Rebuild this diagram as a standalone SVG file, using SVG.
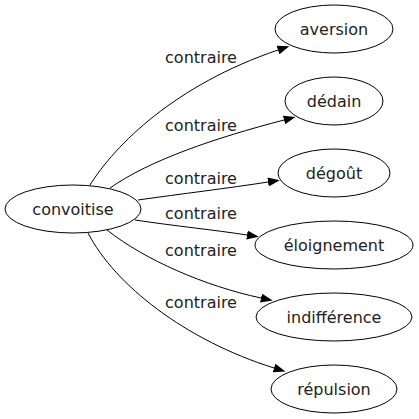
<svg xmlns="http://www.w3.org/2000/svg" width="419" height="419" viewBox="0 0 419 419">
<defs>
<style>
.node ellipse{fill:none;stroke:#000;stroke-width:1}
.node text{font-family:"DejaVu Sans",sans-serif;font-size:16px;text-anchor:middle;fill:#222}
.edge path{fill:none;stroke:#000;stroke-width:1}
.lbl{font-family:"DejaVu Sans",sans-serif;font-size:16px;text-anchor:middle;fill:#222}
</style>
<marker id="arr" markerUnits="userSpaceOnUse" markerWidth="13" markerHeight="10" refX="0" refY="4.5" orient="auto">
<path d="M0,0 L12,4.5 L0,9 z" fill="#000"/>
</marker>
</defs>
<rect width="419" height="419" fill="#fff"/>
<g id="connectors">
<g class="edge"><path d="M90,185 C115,145 175,85 278,50" marker-end="url(#arr)"/><text class="lbl" x="201" y="63">contraire</text></g>
<g class="edge"><path d="M110,188 C150,160 215,138 284,120" marker-end="url(#arr)"/><text class="lbl" x="201" y="131">contraire</text></g>
<g class="edge"><path d="M138,200 C180,194 230,188 268,182" marker-end="url(#arr)"/><text class="lbl" x="201" y="184">contraire</text></g>
<g class="edge"><path d="M135,220 C175,226 215,230 247,235" marker-end="url(#arr)"/><text class="lbl" x="201" y="219">contraire</text></g>
<g class="edge"><path d="M107,230 C145,260 205,286 261,298" marker-end="url(#arr)"/><text class="lbl" x="201" y="256">contraire</text></g>
<g class="edge"><path d="M88,233 C115,285 185,340 274,368" marker-end="url(#arr)"/><text class="lbl" x="201" y="308">contraire</text></g>
</g>
<g id="convoitise" class="node"><ellipse cx="73" cy="209" rx="68" ry="24"/><text x="73" y="215">convoitise</text></g>
<g id="aversion" class="node"><ellipse cx="334" cy="29" rx="59" ry="24"/><text x="334" y="35">aversion</text></g>
<g id="dedain" class="node"><ellipse cx="334" cy="101" rx="49" ry="24"/><text x="334" y="107">dédain</text></g>
<g id="degout" class="node"><ellipse cx="334" cy="173" rx="56" ry="24"/><text x="334" y="179">dégoût</text></g>
<g id="eloignement" class="node"><ellipse cx="334" cy="245" rx="79" ry="24"/><text x="334" y="251">éloignement</text></g>
<g id="indifference" class="node"><ellipse cx="334" cy="317" rx="78" ry="24"/><text x="334" y="323">indifférence</text></g>
<g id="repulsion" class="node"><ellipse cx="334" cy="389" rx="63" ry="24"/><text x="334" y="395">répulsion</text></g>
</svg>
